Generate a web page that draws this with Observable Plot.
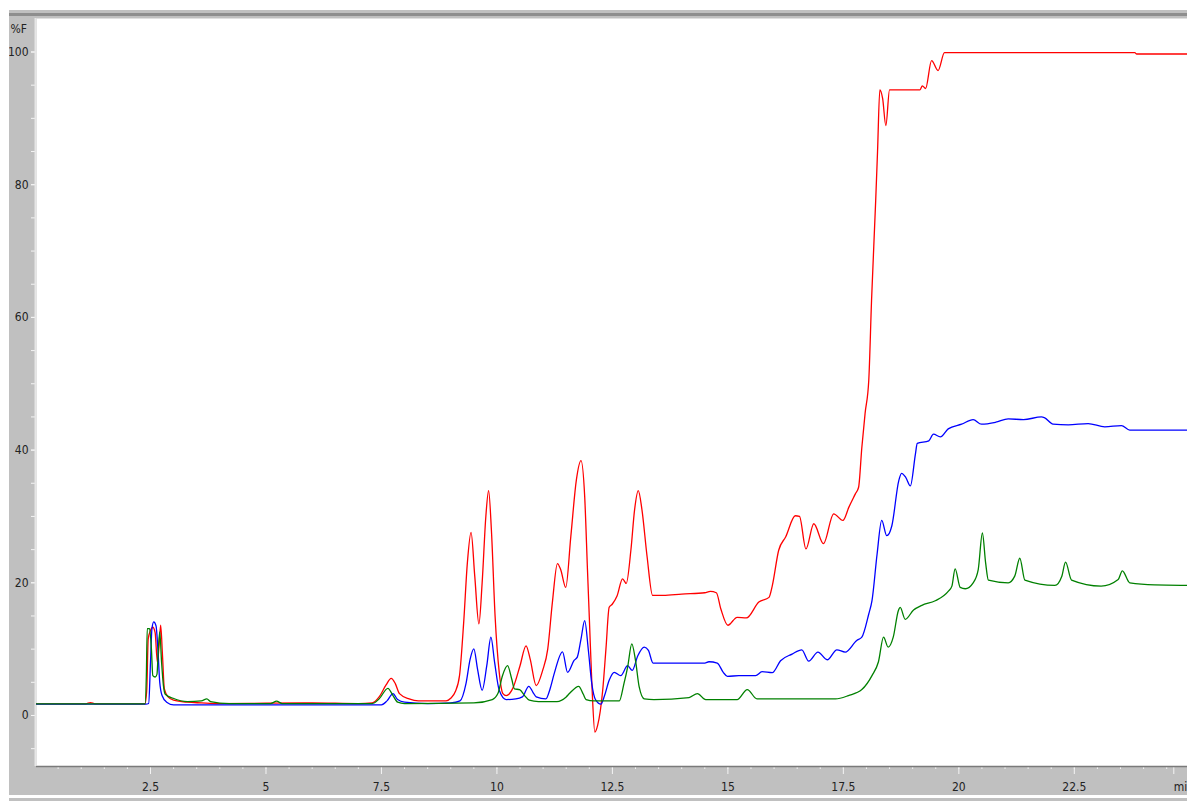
<!DOCTYPE html>
<html><head><meta charset="utf-8">
<script src="https://cdn.jsdelivr.net/npm/d3@7"></script>
<script src="https://cdn.jsdelivr.net/npm/@observablehq/plot@0.6"></script>
<style>
html,body{margin:0;padding:0;background:#fff;overflow:hidden;width:1187px;height:801px;}
#frame{position:absolute;left:9px;top:10px;width:1300px;height:785px;background:#c0c0c0;}
#topline{position:absolute;left:9px;top:13px;width:1300px;height:3px;background:#8e8e8e;}
#chart{position:absolute;left:9px;top:10px;width:1208px;}
#chart svg{max-width:none !important;}
#bottom{position:absolute;left:9px;top:798px;width:1300px;height:3px;background:#c0c0c0;}
#ylab{position:absolute;left:0;top:22px;width:27px;text-align:right;font-family:'Liberation Sans Narrow','DejaVu Sans Condensed',sans-serif;font-size:12px;line-height:14px;color:#222;}
</style>
</head><body>
<div id="frame"></div>
<div id="topline"></div>
<div id="bottom"></div>
<div id="chart"></div>
<div id="ylab">%F</div>
<script>
// ---- data (time in minutes, signal in %F) ----
const red = [[0,1.75],[1.1,1.75],[1.2,1.95],[1.3,1.75],[2.38,1.75],[2.42,4],[2.45,11.5],[2.5,12.8],[2.55,13.3],[2.6,12.5],[2.65,8],[2.69,11],[2.72,13.6],[2.76,9],[2.8,4],[2.88,2.8],[3.0,2.3],[3.3,2.0],[3.6,1.9],[4.0,1.8],[5.0,1.85],[6.0,1.9],[7.0,1.8],[7.3,1.9],[7.45,2.8],[7.6,4.6],[7.71,5.6],[7.8,4.8],[7.89,3.3],[8.1,2.5],[8.3,2.2],[8.9,2.2],[9.0,2.6],[9.1,3.6],[9.19,6],[9.28,14],[9.36,23],[9.44,27.6],[9.52,21],[9.61,13.8],[9.68,20],[9.76,30],[9.82,33.9],[9.88,28],[9.96,15],[10.05,6.5],[10.13,3.3],[10.2,3.0],[10.35,4.2],[10.5,7.5],[10.63,10.5],[10.72,8.5],[10.85,4.5],[10.99,6.8],[11.1,10],[11.2,17],[11.31,22.9],[11.38,22],[11.49,19.3],[11.6,27],[11.72,35.5],[11.82,38.4],[11.9,33],[11.96,22],[12.0,14.8],[12.06,4],[12.12,-2.5],[12.18,-1.5],[12.29,3.8],[12.36,10],[12.43,16.3],[12.5,16.8],[12.6,18],[12.72,20.6],[12.8,19.9],[12.9,24.9],[12.98,31],[13.06,33.9],[13.14,31],[13.25,24],[13.37,18.1],[13.6,18.1],[14.0,18.3],[14.5,18.5],[14.62,18.7],[14.75,18.5],[14.85,16],[15.0,13.6],[15.2,14.8],[15.4,14.7],[15.67,17.1],[15.89,17.8],[15.96,19.5],[16.1,24.9],[16.25,26.9],[16.46,30.1],[16.55,30],[16.69,25.1],[16.86,28.9],[17.07,25.9],[17.29,30.4],[17.49,29.4],[17.62,31.4],[17.76,33.4],[17.83,34.4],[17.9,40.4],[17.97,45.5],[18.05,50.5],[18.11,62.5],[18.2,77.6],[18.24,85],[18.29,94.3],[18.35,93],[18.42,88.9],[18.5,94.3],[18.54,94.3],[19.16,94.3],[19.21,94.9],[19.28,94.5],[19.41,98.7],[19.55,97.2],[19.69,99.9],[23.81,99.9],[23.85,99.7],[25.6,99.7]];

const blue = [[0,1.7],[2.4,1.7],[2.46,1.8],[2.5,8],[2.53,13],[2.57,14.1],[2.62,13.5],[2.66,10],[2.7,5],[2.75,3],[2.85,2.0],[3.0,1.6],[7.5,1.6],[7.62,2.2],[7.75,3.3],[7.85,2.4],[8.0,2.0],[8.5,1.8],[9.0,1.9],[9.2,2.2],[9.33,4.8],[9.42,8.5],[9.5,10.05],[9.58,7],[9.68,3.8],[9.78,7.5],[9.87,11.8],[9.95,8],[10.05,3.8],[10.2,2.4],[10.41,2.5],[10.55,2.8],[10.69,4.4],[10.78,3.5],[10.85,2.8],[11.06,2.5],[11.15,4],[11.24,6.3],[11.42,9.6],[11.53,6.5],[11.67,8.3],[11.74,8.8],[11.82,11.5],[11.9,14.3],[11.98,9.8],[12.05,5],[12.14,2.3],[12.25,1.7],[12.33,3],[12.43,5.3],[12.54,6.5],[12.68,6.0],[12.83,7.5],[12.93,6.8],[13.05,9],[13.19,10.3],[13.28,9.8],[13.38,7.9],[14.5,7.9],[14.59,8.1],[14.77,7.9],[14.9,6.5],[14.99,5.9],[15.24,6.0],[15.6,6.0],[15.74,6.6],[15.96,6.45],[16.14,8.25],[16.39,9.25],[16.6,9.9],[16.75,8.2],[16.95,9.55],[17.15,8.4],[17.36,9.9],[17.54,9.55],[17.79,11.3],[17.9,11.8],[18.05,15.3],[18.12,17.3],[18.23,24.3],[18.33,29.4],[18.44,27.1],[18.55,28.6],[18.7,35.4],[18.76,36.5],[18.85,35.9],[18.95,34.6],[19.06,39.4],[19.1,41.0],[19.35,41.4],[19.45,42.4],[19.6,42.0],[19.77,43.2],[20.06,43.9],[20.31,44.6],[20.49,43.9],[20.8,44.2],[21.07,44.7],[21.4,44.6],[21.79,45.0],[21.85,44.9],[22.04,43.9],[22.37,43.8],[22.8,44.0],[23.16,43.5],[23.52,43.7],[23.7,43.0],[25.6,43.0]];

const green = [[0,1.75],[2.38,1.75],[2.41,6],[2.43,13.1],[2.48,13.1],[2.52,10],[2.55,6],[2.6,5.8],[2.64,6.2],[2.67,10],[2.70,12.6],[2.74,8],[2.78,4.5],[2.82,3.2],[2.99,2.6],[3.3,2.1],[3.6,2.2],[3.72,2.5],[3.8,2.1],[4.2,1.8],[5.1,1.8],[5.23,2.15],[5.35,1.8],[7.3,1.8],[7.45,2.5],[7.64,4.1],[7.75,3.0],[7.85,2.0],[8.0,1.8],[9.5,1.9],[9.9,2.4],[10.02,3.3],[10.12,6],[10.23,7.5],[10.32,5.5],[10.38,4.0],[10.49,3.9],[10.6,3.0],[10.7,2.3],[10.9,2.1],[11.3,2.1],[11.5,2.8],[11.57,3.3],[11.77,4.4],[11.87,3.2],[11.93,2.4],[12.1,2.2],[12.65,2.2],[12.75,4.8],[12.83,7.3],[12.92,10.8],[13.0,8.3],[13.08,4.3],[13.19,2.5],[13.4,2.4],[14.16,2.7],[14.34,3.3],[14.52,2.4],[15.2,2.4],[15.42,3.9],[15.63,2.5],[17.33,2.5],[17.61,3.0],[17.9,3.9],[18.12,6.0],[18.26,8.1],[18.37,11.8],[18.47,10.3],[18.58,11.8],[18.69,15.8],[18.73,16.3],[18.84,14.5],[19.02,15.9],[19.2,16.6],[19.49,17.3],[19.77,18.7],[19.85,19.5],[19.92,22.1],[20.03,19.3],[20.14,19.1],[20.31,20.0],[20.42,22],[20.51,27.5],[20.58,23],[20.64,20.4],[21.07,20.0],[21.21,21],[21.32,23.7],[21.43,20.4],[22.08,19.6],[22.23,21],[22.31,23.1],[22.44,20.4],[23.08,19.5],[23.45,20.5],[23.54,21.8],[23.7,20.0],[24.24,19.7],[25.6,19.6]];

const seriesNames = ["red", "blue", "green"];
const seriesColors = ["#ff0000", "#0000ff", "#008800"];
const xTicks = [2.5, 5, 7.5, 10, 12.5, 15, 17.5, 20, 22.5];
const xTickLabels = ["2.5", "5", "7.5", "10", "12.5", "15", "17.5", "20", "22.5"];
const xUnitTick = [25];
const xUnitLabel = "min";
const yTicks = [0, 20, 40, 60, 80, 100];
const yTickLabels = ["0", "20", "40", "60", "80", "100"];

// ---- build ----
const xDomain = [0.032, 25.6];
const yDomain = [-7.69, 105.05];
const xLabel = new Map(xTicks.map((t, i) => [t, xTickLabels[i]]));
const yLabel = new Map(yTicks.map((t, i) => [t, yTickLabels[i]]));
const rows = [];
[red, blue, green].forEach((s, k) => s.forEach(([t, v]) => rows.push({series: seriesNames[k], t, v})));

const font = "'Liberation Sans Narrow','DejaVu Sans Condensed',sans-serif";
const chart = Plot.plot({
  width: 1208,
  height: 785,
  marginLeft: 27,
  marginRight: 0,
  marginTop: 8,
  marginBottom: 29,
  style: {background: "transparent", fontFamily: font, fontSize: "12px", color: "#222", maxWidth: "none"},
  x: {domain: xDomain, axis: null},
  y: {domain: yDomain, axis: null},
  color: {domain: seriesNames, range: seriesColors},
  marks: [
    Plot.frame({fill: "white", stroke: null}),
    Plot.axisY({ticks: d3.range(-5, 105, 5), tickSize: 5, text: null, stroke: "#f4f4f4", label: null}),
    Plot.axisY({ticks: yTicks, tickSize: 5, tickPadding: 3, tickFormat: d => yLabel.get(d), stroke: "#f4f4f4", fill: "#222", label: null}),
    Plot.axisX({ticks: d3.range(0.5, 25.6, 0.5), tickSize: 3, text: null, stroke: "#f4f4f4", label: null}),
    Plot.axisX({ticks: xTicks, tickSize: 8, tickPadding: 8, tickFormat: d => xLabel.get(d), stroke: "#f4f4f4", fill: "#222", label: null}),
    Plot.axisX({ticks: xUnitTick, tickSize: 8, tickPadding: 8, tickFormat: () => xUnitLabel, stroke: "#f4f4f4", fill: "#222", label: null, textAnchor: "start", dx: -16}),
    Plot.ruleY([yDomain[0]], {stroke: "#7a7a7a", strokeWidth: 1.5}),
    Plot.ruleX([xDomain[0]], {stroke: "#e6e6e6", strokeWidth: 2, dx: -1}),
    Plot.line(rows, {x: "t", y: "v", z: "series", stroke: "series", strokeWidth: 1.3, curve: "monotone-x", clip: "frame"})
  ]
});
document.getElementById("chart").appendChild(chart);
</script>
</body></html>
